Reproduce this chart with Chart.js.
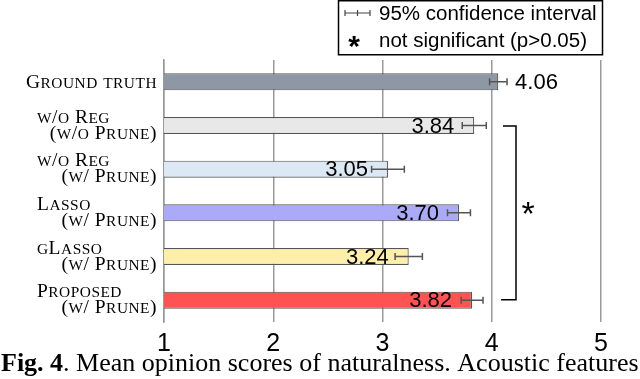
<!DOCTYPE html>
<html><head><meta charset="utf-8">
<script src="https://cdn.jsdelivr.net/npm/chart.js@4/dist/chart.umd.min.js"></script>
<style>html,body{margin:0;padding:0;background:#fff}#wrap{width:640px;height:379px;position:relative}</style>
</head><body><div id="wrap"><canvas id="c" width="640" height="379"></canvas></div>
<script>
const categories = [["Ground truth"],["w/o Reg","(w/o Prune)"],["w/o Reg","(w/ Prune)"],["Lasso","(w/ Prune)"],["gLasso","(w/ Prune)"],["Proposed","(w/ Prune)"]];
const scores = [4.06, 3.84, 3.05, 3.70, 3.24, 3.82];
const ciHalf = [0.08, 0.11, 0.15, 0.105, 0.125, 0.10];
const valueLabels = ["4.06","3.84","3.05","3.70","3.24","3.82"];
const xTicks = [1, 2, 3, 4, 5];
const barColors = ["#8e97a5","#e8e8e8","#dce9f5","#aaaaf8","#fdeeaa","#ff5252"];
const legendItems = ["95% confidence interval","not significant (p>0.05)"];
const bracketRange = [1, 5];
const captionBold = "Fig. 4";
const captionRest = ". Mean opinion scores of naturalness. Acoustic features";

const SANS = '"Liberation Sans", Arial, sans-serif';
const SERIF = '"Liberation Serif", "Times New Roman", serif';

// draw text in emulated small caps (uppercase at full size, lowercase as reduced capitals)
function smallCapsRuns(text) {
  const runs = [];
  for (const ch of text) {
    const small = ch !== ch.toUpperCase();
    const last = runs[runs.length - 1];
    if (last && last.small === small) last.t += ch; else runs.push({ small, t: ch });
  }
  return runs;
}
function drawSmallCaps(ctx, text, x, y, align, size) {
  const big = size, sm = size * 0.79, ls = 0.5;
  const runs = smallCapsRuns(text);
  let total = 0;
  runs.forEach(r => {
    ctx.font = (r.small ? sm : big) + 'px ' + SERIF;
    r.w = ctx.measureText(r.small ? r.t.toUpperCase() : r.t).width + ls * [...r.t].length;
    total += r.w;
  });
  let cx = align === 'right' ? x - total : x;
  ctx.textAlign = 'left';
  runs.forEach(r => {
    ctx.font = (r.small ? sm : big) + 'px ' + SERIF;
    ctx.letterSpacing = ls + 'px';
    ctx.fillText(r.small ? r.t.toUpperCase() : r.t, cx, y);
    cx += r.w;
  });
  ctx.letterSpacing = '0px';
}

const overlay = {
  id: 'overlay',
  afterDatasetsDraw(chart) {
    const ctx = chart.ctx, xs = chart.scales.x, ys = chart.scales.y;
    ctx.save();
    // error bars and value labels
    scores.forEach((v, i) => {
      const yc = ys.getPixelForValue(i);
      const x0 = xs.getPixelForValue(v - ciHalf[i]);
      const x1 = xs.getPixelForValue(v + ciHalf[i]);
      ctx.strokeStyle = '#555'; ctx.lineWidth = 1.5;
      ctx.beginPath();
      ctx.moveTo(x0, yc); ctx.lineTo(x1, yc);
      ctx.moveTo(x0, yc - 3.5); ctx.lineTo(x0, yc + 3.5);
      ctx.moveTo(x1, yc - 3.5); ctx.lineTo(x1, yc + 3.5);
      ctx.stroke();
      ctx.fillStyle = '#000';
      ctx.font = '22px ' + SANS;
      ctx.textBaseline = 'middle';
      const xe = xs.getPixelForValue(v);
      if (i === 0) { ctx.textAlign = 'left'; ctx.fillText(valueLabels[i], x1 + 8, yc + 1); }
      else { ctx.textAlign = 'right'; ctx.fillText(valueLabels[i], xe - 20, yc + 1); }
    });
    // category labels (small caps serif)
    ctx.fillStyle = '#000';
    ctx.textBaseline = 'alphabetic';
    categories.forEach((lines, i) => {
      const yc = ys.getPixelForValue(i);
      if (lines.length === 1) {
        drawSmallCaps(ctx, lines[0], 157, yc + 6, 'right', 19.5);
      } else {
        drawSmallCaps(ctx, lines[0], 37, yc - 3, 'left', 19.5);
        drawSmallCaps(ctx, lines[1], 157, yc + 13, 'right', 19.5);
      }
    });
    // significance bracket
    const yA = ys.getPixelForValue(bracketRange[0]) + 0.5;
    const yB = ys.getPixelForValue(bracketRange[1]) - 0.5;
    ctx.strokeStyle = '#000'; ctx.lineWidth = 1.5;
    ctx.beginPath();
    ctx.moveTo(503, yA); ctx.lineTo(516, yA); ctx.lineTo(516, yB); ctx.lineTo(501, yB);
    ctx.stroke();
    ctx.font = '34px ' + SANS; ctx.textAlign = 'center'; ctx.textBaseline = 'alphabetic';
    ctx.fillText('*', 528, (yA + yB) / 2 + 12);
    // legend box
    ctx.lineWidth = 1.5; ctx.strokeStyle = '#000';
    ctx.strokeRect(338.5, 0.75, 264, 54);
    ctx.strokeStyle = '#444'; ctx.lineWidth = 1.2;
    ctx.beginPath();
    ctx.moveTo(345, 13); ctx.lineTo(370, 13);
    ctx.moveTo(345, 10); ctx.lineTo(345, 16);
    ctx.moveTo(357.5, 10); ctx.lineTo(357.5, 16);
    ctx.moveTo(370, 10); ctx.lineTo(370, 16);
    ctx.stroke();
    ctx.font = '20.5px ' + SANS; ctx.textAlign = 'left'; ctx.textBaseline = 'middle';
    ctx.fillStyle = '#000';
    ctx.fillText(legendItems[0], 379, 14);
    ctx.fillText(legendItems[1], 379, 41);
    ctx.font = 'bold 30px ' + SANS; ctx.textAlign = 'center'; ctx.textBaseline = 'alphabetic';
    ctx.fillText('*', 354, 56);
    // caption
    ctx.textAlign = 'left'; ctx.textBaseline = 'alphabetic';
    ctx.font = 'bold 26px ' + SERIF;
    ctx.fillText(captionBold, 1, 371);
    const w = ctx.measureText(captionBold).width;
    ctx.font = '26px ' + SERIF;
    ctx.fillText(captionRest, 1 + w, 371);
    ctx.restore();
  }
};

new Chart(document.getElementById('c'), {
  type: 'bar',
  data: {
    labels: categories.map(c => c.join(' ')),
    datasets: [{
      data: scores,
      backgroundColor: barColors,
      borderColor: '#555',
      borderWidth: 1.2,
      borderSkipped: false,
      barPercentage: 0.39,
      categoryPercentage: 1
    }]
  },
  options: {
    indexAxis: 'y',
    responsive: false,
    devicePixelRatio: 1,
    animation: false,
    layout: { padding: { top: 60, right: 39, left: 0, bottom: 0 } },
    plugins: { legend: { display: false }, tooltip: { enabled: false } },
    scales: {
      x: {
        min: 1, max: 5,
        afterBuildTicks: s => { s.ticks = xTicks.map(v => ({ value: v })); },
        afterFit: s => { s.height = 57; },
        ticks: { color: '#000', font: { family: SANS, size: 25 }, padding: 7 },
        grid: { color: '#999', lineWidth: 1.5, drawTicks: false },
        border: { display: false }
      },
      y: {
        afterFit: s => { s.width = 164; },
        ticks: { display: false },
        grid: { display: false, drawTicks: false },
        border: { display: true, color: '#999', width: 1.5 }
      }
    }
  },
  plugins: [overlay]
});
</script>
</body></html>
